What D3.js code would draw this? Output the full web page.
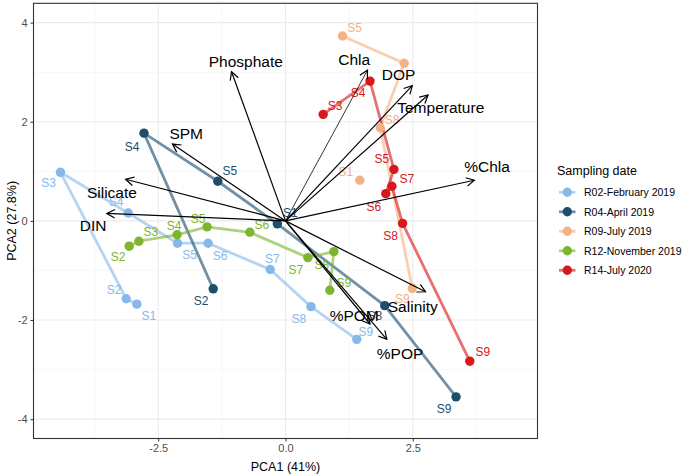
<!DOCTYPE html>
<html>
<head>
<meta charset="utf-8">
<script src="https://cdn.jsdelivr.net/npm/d3@7"></script>
<style>
  html, body { margin: 0; padding: 0; background: #fff; }
  svg { display: block; font-family: "Liberation Sans", Arial, sans-serif; }
</style>
</head>
<body>
<svg id="chart" width="685" height="475"></svg>
<script>
// ---------------- DATA ----------------
const dates = ["R02-February 2019", "R04-April 2019", "R09-July 2019", "R12-November 2019", "R14-July 2020"];
const dateColors = ["#85B9EA", "#1D4E6E", "#F4B184", "#7DB52F", "#D7191C"];

// Stations in drawing (path) order; null = break in the path
const r02Stations = ["S1", "S2", "S3", "S4", "S5", "S6", "S7", "S8", "S9"];
const r02PC1 = [-2.92, -3.13, -4.42, -3.09, -2.12, -1.52, -0.30, 0.50, 1.40];
const r02PC2 = [-1.68, -1.57, 0.98, 0.16, -0.45, -0.45, -0.98, -1.73, -2.39];

const r04Stations = ["S2", "S4", "S5", "S1", "S8", "S9"];
const r04PC1 = [-1.42, -2.78, -1.33, -0.16, 1.95, 3.35];
const r04PC2 = [-1.37, 1.77, 0.80, -0.06, -1.71, -3.55];

const r09Stations = ["S1", null, "S5", "S7", "S8", "S9"];
const r09PC1 = [1.46, null, 1.12, 2.33, 1.86, 2.49];
const r09PC2 = [0.82, null, 3.73, 3.18, 1.88, -1.36];

const r12Stations = ["S2", "S3", "S4", "S5", "S6", "S7", "S8", "S9"];
const r12PC1 = [-3.07, -2.88, -2.13, -1.54, -0.70, 0.44, 0.95, 0.87];
const r12PC2 = [-0.51, -0.41, -0.28, -0.12, -0.23, -0.74, -0.62, -1.40];

const r14Stations = ["S3", "S4", "S5", "S6", "S7", "S8", "S9"];
const r14PC1 = [0.74, 1.66, 2.13, 1.97, 2.09, 2.30, 3.62];
const r14PC2 = [2.15, 2.82, 1.04, 0.55, 0.70, -0.05, -2.83];

const loadingNames = ["Phosphate", "SPM", "Silicate", "DIN", "Chla", "DOP", "Temperature", "%Chla", "Salinity", "%POM", "%POP"];
const loadingPC1 = [-1.06, -2.22, -3.14, -3.51, 1.61, 2.49, 2.80, 3.71, 2.75, 1.66, 1.99];
const loadingPC2 = [3.01, 1.55, 0.84, 0.15, 3.04, 2.73, 2.54, 0.82, -1.43, -2.08, -2.39];
const loadingLabelPC1 = [-0.78, -1.95, -3.41, -3.78, 1.35, 2.22, 3.05, 3.96, 2.50, 1.35, 2.25];
const loadingLabelPC2 = [3.22, 1.76, 0.57, -0.10, 3.26, 2.96, 2.29, 1.09, -1.72, -1.90, -2.67];

const xTicks = [-2.5, 0, 2.5];
const xTickLabels = ["-2.5", "0.0", "2.5"];
const yTicks = [-4, -2, 0, 2, 4];
const yTickLabels = ["-4", "-2", "0", "2", "4"];
const xMinor = [-3.75, -1.25, 1.25, 3.75];
const yMinor = [-3, -1, 1, 3];
const xTitle = "PCA1 (41%)";
const yTitle = "PCA2 (27.8%)";
const legendTitle = "Sampling date";

// label offsets (pixels), layout only; null = label not shown
const labelNudge = {
  "R02-February 2019": { S1: [12, 12], S2: [-12, -9], S3: [-12, 11], S4: [-12, -11], S5: [12, 12], S6: [12, 13], S7: [2, -10], S8: [-12, 12], S9: [9, -7] },
  "R04-April 2019": { S2: [-12, 12], S4: [-12, 14], S5: [12, -10], S1: [13, -11], S8: [-10, 10], S9: [-12, 12] },
  "R09-July 2019": { S1: [-14, -8], S5: [12, -8], S7: null, S8: [12, -8], S9: [-10, 11] },
  "R12-November 2019": { S2: [-11, 11], S3: [12, -9], S4: [-3, -9], S5: [-9, -8], S6: [12, -7], S7: [-12, 12], S8: [-12, 13], S9: [14, -7] },
  "R14-July 2020": { S3: [12, -8], S4: [-12, 12], S5: [-12, -10], S6: [-12, 13], S7: [15, -7], S8: [-12, 13], S9: [13, -9] }
};

// ---------------- BUILD ----------------
const groups = [
  [r02Stations, r02PC1, r02PC2],
  [r04Stations, r04PC1, r04PC2],
  [r09Stations, r09PC1, r09PC2],
  [r12Stations, r12PC1, r12PC2],
  [r14Stations, r14PC1, r14PC2]
].map(([st, a, b], i) => ({
  date: dates[i],
  color: dateColors[i],
  pts: st.map((s, j) => ({ station: s, x: a[j], y: b[j] }))
}));

const loadings = loadingNames.map((n, i) => ({
  name: n, x: loadingPC1[i], y: loadingPC2[i], lx: loadingLabelPC1[i], ly: loadingLabelPC2[i]
}));

const svg = d3.select("#chart");
const panel = { left: 33.5, right: 537.5, top: 3.3, bottom: 438.5 };
const x = d3.scaleLinear().domain([-4.95, 4.95]).range([panel.left, panel.right]);
const y = d3.scaleLinear().domain([-4.39, 4.39]).range([panel.bottom, panel.top]);

// grid
const grid = svg.append("g");
grid.selectAll(".xminor").data(xMinor).join("line")
  .attr("x1", d => x(d)).attr("x2", d => x(d)).attr("y1", panel.top).attr("y2", panel.bottom)
  .attr("stroke", "#F2F2F2").attr("stroke-width", 0.6);
grid.selectAll(".yminor").data(yMinor).join("line")
  .attr("y1", d => y(d)).attr("y2", d => y(d)).attr("x1", panel.left).attr("x2", panel.right)
  .attr("stroke", "#F2F2F2").attr("stroke-width", 0.6);
grid.selectAll(".xmajor").data(xTicks).join("line")
  .attr("x1", d => x(d)).attr("x2", d => x(d)).attr("y1", panel.top).attr("y2", panel.bottom)
  .attr("stroke", "#EBEBEB").attr("stroke-width", 1.1);
grid.selectAll(".ymajor").data(yTicks).join("line")
  .attr("y1", d => y(d)).attr("y2", d => y(d)).attr("x1", panel.left).attr("x2", panel.right)
  .attr("stroke", "#EBEBEB").attr("stroke-width", 1.1);

// axes
const xAxis = d3.axisBottom(x).tickValues(xTicks).tickFormat((d, i) => xTickLabels[i]).tickSize(3).tickPadding(3);
const yAxis = d3.axisLeft(y).tickValues(yTicks).tickFormat((d, i) => yTickLabels[i]).tickSize(3).tickPadding(3);
const gx = svg.append("g").attr("transform", `translate(0,${panel.bottom})`).call(xAxis);
const gy = svg.append("g").attr("transform", `translate(${panel.left},0)`).call(yAxis);
[gx, gy].forEach(g => {
  g.select(".domain").remove();
  g.selectAll(".tick line").attr("stroke", "#333333").attr("stroke-width", 1);
  g.selectAll(".tick text").attr("fill", "#4D4D4D").style("font-size", "11px")
    .style("font-family", '"Liberation Sans", Arial, sans-serif');
});

// clip for panel
svg.append("clipPath").attr("id", "clip").append("rect")
  .attr("x", panel.left).attr("y", panel.top)
  .attr("width", panel.right - panel.left).attr("height", panel.bottom - panel.top);
const plot = svg.append("g").attr("clip-path", "url(#clip)");

// paths
const line = d3.line().defined(d => d.x != null).x(d => x(d.x)).y(d => y(d.y));
plot.selectAll(".path").data(groups).join("path")
  .attr("d", g => line(g.pts))
  .attr("fill", "none").attr("stroke", g => g.color)
  .attr("stroke-width", 2.8).attr("stroke-opacity", 0.62)
  .attr("stroke-linejoin", "round");

// points
groups.forEach(g => {
  plot.selectAll(null).data(g.pts.filter(p => p.x != null)).join("circle")
    .attr("cx", p => x(p.x)).attr("cy", p => y(p.y)).attr("r", 4.7)
    .attr("fill", g.color);
});

// point labels
groups.forEach(g => {
  const pts = g.pts.filter(p => p.x != null && labelNudge[g.date][p.station]);
  plot.selectAll(null).data(pts).join("text")
    .attr("x", p => x(p.x) + labelNudge[g.date][p.station][0])
    .attr("y", p => y(p.y) + labelNudge[g.date][p.station][1])
    .attr("text-anchor", "middle").attr("dominant-baseline", "central")
    .attr("fill", g.color).style("font-size", "12px")
    .text(p => p.station);
});

// loading arrows
const defs = svg.append("defs");
defs.append("marker").attr("id", "arrow")
  .attr("viewBox", "-10 -6 12 12").attr("refX", 0).attr("refY", 0)
  .attr("markerWidth", 12).attr("markerHeight", 12).attr("markerUnits", "userSpaceOnUse")
  .attr("orient", "auto")
  .append("path").attr("d", "M-8,-4.3L0,0L-8,4.3")
  .attr("fill", "none").attr("stroke", "#000").attr("stroke-width", 1.2);

plot.selectAll(".load").data(loadings).join("line")
  .attr("x1", x(0)).attr("y1", y(0))
  .attr("x2", d => x(d.x)).attr("y2", d => y(d.y))
  .attr("stroke", "#000").attr("stroke-width", d => d.name === "Chla" ? 0.8 : 1.2)
  .attr("marker-end", "url(#arrow)");

plot.selectAll(".loadlab").data(loadings).join("text")
  .attr("x", d => x(d.lx)).attr("y", d => y(d.ly))
  .attr("text-anchor", "middle").attr("dominant-baseline", "central")
  .attr("fill", "#000").style("font-size", "15.5px")
  .text(d => d.name);

// panel border
svg.append("rect")
  .attr("x", panel.left).attr("y", panel.top)
  .attr("width", panel.right - panel.left).attr("height", panel.bottom - panel.top)
  .attr("fill", "none").attr("stroke", "#333333").attr("stroke-width", 1.1);

// axis titles
svg.append("text").attr("x", (panel.left + panel.right) / 2).attr("y", 466.5)
  .attr("text-anchor", "middle").attr("dominant-baseline", "central")
  .style("font-size", "12.5px").attr("fill", "#000").text(xTitle);
svg.append("text")
  .attr("transform", `translate(12,${(panel.top + panel.bottom) / 2}) rotate(-90)`)
  .attr("text-anchor", "middle").attr("dominant-baseline", "central")
  .style("font-size", "12.5px").attr("fill", "#000").text(yTitle);

// legend
const lg = svg.append("g");
lg.append("text").attr("x", 557).attr("y", 170.7).attr("dominant-baseline", "central")
  .style("font-size", "12.5px").attr("fill", "#000").text(legendTitle);
const items = lg.selectAll(".item").data(dates).join("g")
  .attr("transform", (d, i) => `translate(0,${192.3 + i * 19.5})`);
items.append("line").attr("x1", 559).attr("x2", 575.5).attr("y1", 0).attr("y2", 0)
  .attr("stroke", (d, i) => dateColors[i]).attr("stroke-width", 2.8).attr("stroke-opacity", 0.62);
items.append("circle").attr("cx", 567.3).attr("cy", 0).attr("r", 4.7)
  .attr("fill", (d, i) => dateColors[i]);
items.append("text").attr("x", 584).attr("y", 0).attr("dominant-baseline", "central")
  .style("font-size", "10.5px").attr("fill", "#000").text(d => d);
</script>
</body>
</html>
